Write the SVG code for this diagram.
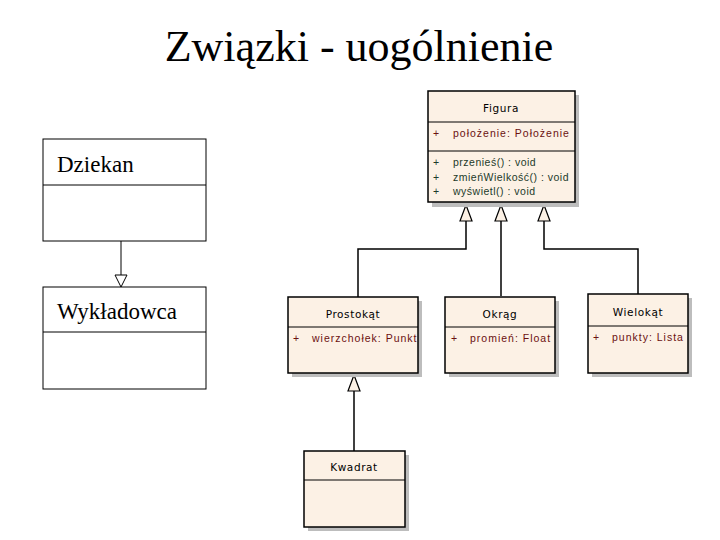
<svg xmlns="http://www.w3.org/2000/svg" width="720" height="540" viewBox="0 0 720 540">
<style>
.title{font-family:"Liberation Serif",serif;font-size:44px;fill:#000}
.ser{font-family:"Liberation Serif",serif;font-size:23px;fill:#000}
.box{fill:#fff;stroke:#000;stroke-width:1}
.sh{fill:#bdbdbd}
.cls{fill:#fcf1e5;stroke:#000;stroke-width:1.5}
.div{stroke:#000;stroke-width:1}
.t{font-family:"DejaVu Sans","Liberation Sans",sans-serif;font-size:10.5px;fill:#000;letter-spacing:0.6px}
.a{font-family:"Liberation Sans",sans-serif;font-size:10.5px;fill:#6b1010;letter-spacing:1px}
.m{font-family:"Liberation Sans",sans-serif;font-size:10.5px;fill:#1d3a2a;letter-spacing:0.5px}
.ln{fill:none;stroke:#000;stroke-width:1.5}
.ln1{fill:none;stroke:#000;stroke-width:1}
.tri{fill:#fcf1e5;stroke:#000;stroke-width:1.2}
.tri1{fill:#fff;stroke:#000;stroke-width:1}
</style>
<rect width="720" height="540" fill="#fff"/>
<text class="title" x="359" y="61" text-anchor="middle">Związki - uogólnienie</text>

<g id="connectors">
<path class="ln1" d="M121 241 V275"/>
<polygon class="tri1" points="121,287 115,275 127,275"/>
<path class="ln" d="M466 221 V249 H358 V297"/>
<path class="ln" d="M501 221 V296"/>
<path class="ln" d="M544 221 V249 H638 V294"/>
<polygon class="tri" points="466,205 460,221 472,221"/>
<polygon class="tri" points="501,205 495,221 507,221"/>
<polygon class="tri" points="544,205 538,221 550,221"/>
<path class="ln" d="M354 391 V451"/>
<polygon class="tri" points="354,375 348,391 360,391"/>
</g>

<g id="dziekan">
<rect class="box" x="43" y="139" width="163" height="102"/>
<line class="div" x1="43" y1="185" x2="206" y2="185"/>
<text class="ser" x="57" y="172">Dziekan</text>
</g>

<g id="wykladowca">
<rect class="box" x="43" y="287" width="163" height="102"/>
<line class="div" x1="43" y1="332" x2="206" y2="332"/>
<text class="ser" x="57" y="319">Wykładowca</text>
</g>

<g id="figura">
<rect class="sh" x="432" y="95" width="147" height="112"/>
<rect class="cls" x="428" y="91" width="147" height="111"/>
<line class="div" x1="428" y1="122" x2="575" y2="122"/>
<line class="div" x1="428" y1="151" x2="575" y2="151" stroke-width="1.5"/>
<text class="t" x="501" y="112" text-anchor="middle">Figura</text>
<text class="a" x="433" y="137">+</text>
<text class="a" x="453" y="137">położenie:  Położenie</text>
<text class="m" x="433" y="166">+</text>
<text class="m" x="453" y="166">przenieś() : void</text>
<text class="m" x="433" y="181">+</text>
<text class="m" x="453" y="181">zmieńWielkość() : void</text>
<text class="m" x="433" y="195">+</text>
<text class="m" x="453" y="195">wyświetl() : void</text>
</g>

<g id="prostokat">
<rect class="sh" x="292" y="301" width="130" height="76"/>
<rect class="cls" x="288" y="297" width="130" height="76"/>
<line class="div" x1="288" y1="327" x2="418" y2="327"/>
<text class="t" x="353" y="318" text-anchor="middle">Prostokąt</text>
<text class="a" x="293" y="342">+</text>
<text class="a" x="312" y="342">wierzchołek:  Punkt</text>
</g>

<g id="okrag">
<rect class="sh" x="449" y="301" width="110" height="76"/>
<rect class="cls" x="445" y="297" width="110" height="76"/>
<line class="div" x1="445" y1="327" x2="555" y2="327"/>
<text class="t" x="500" y="318" text-anchor="middle">Okrąg</text>
<text class="a" x="451" y="342">+</text>
<text class="a" x="470" y="342">promień:  Float</text>
</g>

<g id="wielokat">
<rect class="sh" x="592" y="298" width="100" height="79"/>
<rect class="cls" x="588" y="294" width="100" height="79"/>
<line class="div" x1="588" y1="326" x2="688" y2="326"/>
<text class="t" x="638" y="316" text-anchor="middle">Wielokąt</text>
<text class="a" x="593" y="341">+</text>
<text class="a" x="612" y="341">punkty:  Lista</text>
</g>

<g id="kwadrat">
<rect class="sh" x="308" y="455" width="101" height="76"/>
<rect class="cls" x="304" y="451" width="101" height="76"/>
<line class="div" x1="304" y1="480" x2="405" y2="480"/>
<text class="t" x="354" y="471" text-anchor="middle">Kwadrat</text>
</g>
</svg>
